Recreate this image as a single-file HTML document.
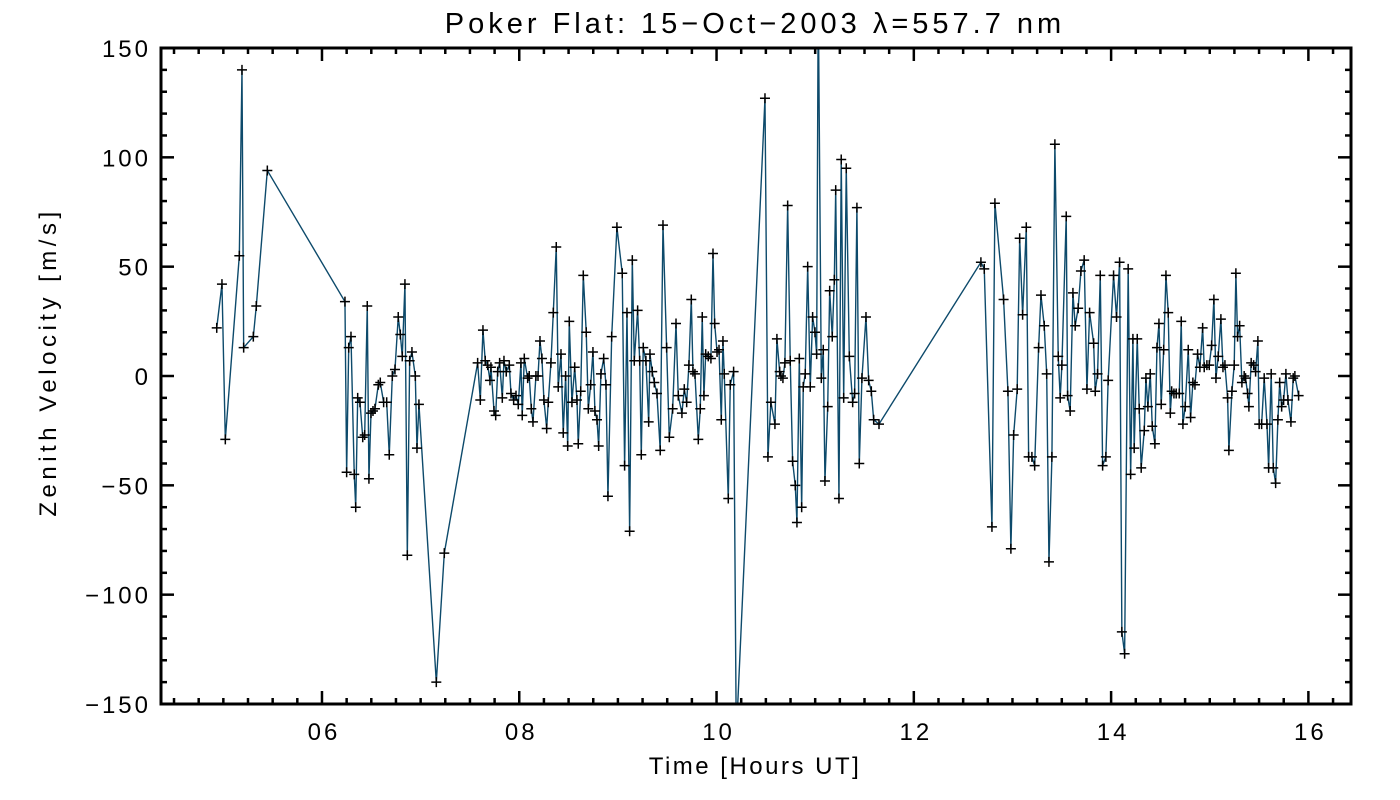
<!DOCTYPE html>
<html><head><meta charset="utf-8"><style>
html,body{margin:0;padding:0;background:#fff;}
svg{display:block;font-family:"Liberation Sans",sans-serif;}
</style></head><body>
<svg id="chart" width="1400" height="800" viewBox="0 0 1400 800" xmlns="http://www.w3.org/2000/svg">
<defs><clipPath id="plotclip"><rect x="161" y="48" width="1190" height="656"/></clipPath></defs>
<rect width="1400" height="800" fill="#fff"/>
<text x="755" y="33" text-anchor="middle" font-size="29" letter-spacing="4" fill="#000">Poker Flat: 15−Oct−2003 λ=557.7 nm</text>
<text x="755" y="774" text-anchor="middle" font-size="24" letter-spacing="2.5" fill="#000">Time [Hours UT]</text>
<text transform="translate(56,362) rotate(-90)" text-anchor="middle" font-size="24" letter-spacing="4.5" fill="#000">Zenith Velocity [m/s]</text>
<g id="axes"></g>
<g id="series" clip-path="url(#plotclip)"></g>
<g id="markers" clip-path="url(#plotclip)"></g>
<rect x="161" y="48" width="1190" height="656" fill="none" stroke="#000" stroke-width="3"/>
</svg>
<script>
const hours = [4.933,4.986,5.020,5.162,5.189,5.206,5.304,5.334,5.446,
6.233,6.250,6.271,6.294,6.327,6.342,6.362,6.385,6.413,6.433,6.459,6.476,6.497,6.517,6.537,6.571,6.591,6.625,6.656,6.682,6.713,6.740,6.773,6.794,6.814,6.841,6.865,6.889,6.912,6.946,6.963,6.983,7.159,7.240,
7.578,7.605,7.632,7.655,7.680,7.703,7.713,7.744,7.761,7.781,7.801,7.828,7.845,7.868,7.899,7.916,7.943,7.967,7.990,8.017,8.030,8.051,8.085,8.101,8.122,8.139,8.169,8.190,8.210,8.230,8.250,8.278,8.294,8.321,8.345,8.375,8.395,8.423,8.446,8.470,8.491,8.507,8.534,8.562,8.585,8.598,8.623,8.649,8.679,8.700,8.724,8.747,8.767,8.788,8.805,8.828,8.856,8.879,8.899,8.937,8.990,9.044,9.068,9.092,9.119,9.146,9.166,9.200,9.221,9.237,9.257,9.284,9.312,9.325,9.348,9.369,9.396,9.429,9.457,9.494,9.521,
9.555,9.589,9.612,9.649,9.673,9.697,9.720,9.744,9.761,9.781,9.815,9.835,9.855,9.872,9.890,9.916,9.943,9.964,9.981,10.005,10.025,10.048,10.065,10.078,10.119,10.139,10.173,10.200,10.491,10.521,10.551,10.592,10.612,10.640,10.653,10.673,10.693,10.721,10.747,10.771,10.798,10.815,10.839,10.863,10.879,10.899,10.924,10.950,10.974,10.998,11.015,11.031,11.062,11.082,11.099,11.127,11.147,11.173,11.194,11.208,11.241,11.264,11.289,11.315,11.346,11.380,11.400,11.423,11.447,11.474,11.515,11.542,11.569,11.593,11.647,
12.680,12.714,12.792,12.822,12.910,12.954,12.984,13.012,13.048,13.073,13.103,13.140,13.164,13.197,13.225,13.265,13.289,13.322,13.347,13.370,13.400,13.430,13.464,13.484,13.501,13.545,13.559,13.585,13.613,13.636,13.666,13.694,13.727,13.755,13.782,13.823,13.839,13.863,13.890,13.914,13.947,13.970,14.025,14.055,14.086,14.109,14.137,14.173,14.198,14.221,14.234,14.265,14.285,
14.305,14.336,14.353,14.373,14.397,14.417,14.444,14.465,14.485,14.508,14.533,14.556,14.579,14.600,14.614,14.637,14.660,14.691,14.711,14.728,14.751,14.782,14.806,14.829,14.850,14.877,14.900,14.928,14.944,14.971,14.995,15.019,15.042,15.063,15.086,15.113,15.134,15.154,15.181,15.194,15.225,15.248,15.265,15.282,15.303,15.326,15.349,15.363,15.384,15.397,15.420,15.445,15.465,15.488,15.501,15.526,15.552,15.580,15.597,15.623,15.644,15.668,15.691,15.709,15.729,15.749,15.772,15.793,15.823,15.846,15.863,15.901];
const velocity = [22,42,-29,55,140,13,18,32,94,
34,-44,13,18,-45,-60,-10,-12,-28,-27,32,-47,-17,-16,-15,-4,-3,-12,-12,-36,0,3,27,19,9,42,-82,7,11,0,-33,-13,-140,-81,
6,-11,21,7,5,-2,4,-16,-18,2,6,-10,7,2,5,-8,-11,-9,-13,6,-18,8,-1,0,-15,-21,0,0,16,8,-11,-24,-12,6,29,59,-5,10,-26,0,-32,25,-12,4,-11,-31,-7,46,20,-15,-4,11,-16,-20,-32,1,8,-4,-55,18,68,47,-41,29,-71,53,7,30,7,-36,13,7,-21,10,2,-3,-8,-34,69,13,-28,
-15,24,-9,-17,-6,-12,5,35,2,1,-29,-15,27,-9,10,9,8,56,24,11,12,-20,16,1,-56,-4,2,-165,127,-37,-12,-22,17,2,0,-1,6,78,7,-39,-50,-67,8,-60,-5,1,50,-5,27,20,10,175,-1,12,-48,-14,39,18,44,85,-56,99,-10,95,9,-12,-8,77,-40,-1,27,-2,-7,-20,-22,
52,49,-69,79,35,-7,-79,-27,-6,63,28,68,-37,-37,-41,13,37,23,1,-85,-37,106,9,-10,5,73,-9,-16,38,23,31,48,53,-6,29,15,-7,1,46,-41,-37,-2,46,27,52,-117,-127,49,-45,17,-33,17,-15,
-42,-25,-1,-14,1,-23,-31,13,24,-13,12,46,29,-17,-7,-8,-8,-8,25,-22,-14,12,-19,-3,-4,10,4,22,4,5,5,14,35,-1,9,26,4,5,-10,-34,-7,5,47,18,23,-3,0,-1,-8,-14,6,5,2,16,-22,-22,-1,-22,-42,1,-42,-49,-20,-3,-14,-11,1,-11,-21,-1,0,-9];
const xTickValues = [6,8,10,12,14,16];
const xTickLabels = ["06","08","10","12","14","16"];
const yTickValues = [-150,-100,-50,0,50,100,150];
const yTickLabels = ["−150","−100","−50","0","50","100","150"];

const L=161,R=1351,T=48,B=704;
const xMin=4.368,xMax=16.432,yMin=-150,yMax=150;
function xs(h){return L+(h-xMin)/(xMax-xMin)*(R-L);}
function ys(v){return B-(v-yMin)/(yMax-yMin)*(B-T);}
const NS="http://www.w3.org/2000/svg";
function mk(tag,attrs,parent){const e=document.createElementNS(NS,tag);for(const k in attrs)e.setAttribute(k,attrs[k]);parent.appendChild(e);return e;}

const axes=document.getElementById('axes');
for(let h=4.5;h<=16.3;h+=0.25){
  const major=Math.abs(h-Math.round(h))<1e-6 && Math.round(h)%2===0;
  const len=major?13:6;const x=xs(h);
  const t1=mk('line',{x1:x,x2:x,y1:B,y2:B-len,stroke:'#000','stroke-width':2.5},axes);
  
  
  const t2=mk('line',{x1:x,x2:x,y1:T,y2:T+len,stroke:'#000','stroke-width':2.5},axes);
  
  
}
xTickValues.forEach((v,i)=>{
  const t=mk('text',{x:xs(v)+2,y:740,'text-anchor':'middle','font-size':24,'letter-spacing':3,fill:'#000'},axes);
  t.textContent=xTickLabels[i];
  
  
});
for(let v=-150;v<=150;v+=10){
  const major=v%50===0;const len=major?13:6;const y=ys(v);
  const t1=mk('line',{x1:L,x2:L+len,y1:y,y2:y,stroke:'#000','stroke-width':2.5},axes);
  
  
  const t2=mk('line',{x1:R,x2:R-len,y1:y,y2:y,stroke:'#000','stroke-width':2.5},axes);
  
  
}
yTickValues.forEach((v,i)=>{
  const t=mk('text',{x:151,y:ys(v)+9,'text-anchor':'end','font-size':24,'letter-spacing':3,fill:'#000'},axes);
  t.textContent=yTickLabels[i];
  
  
});
const series=document.getElementById('series');
let d='';
hours.forEach((h,i)=>{d+=(i?'L':'M')+xs(h).toFixed(2)+' '+ys(velocity[i]).toFixed(2);});
const path=mk('path',{d:d,fill:'none',stroke:'#0d4a6b','stroke-width':1.4,'stroke-linejoin':'miter'},series);


const markers=document.getElementById('markers');
hours.forEach((h,i)=>{
  const x=xs(h),y=ys(velocity[i]);
  const p=mk('path',{d:`M${x-5} ${y}H${x+5}M${x} ${y-5}V${y+5}`,stroke:'#000','stroke-width':1.5,fill:'none'},markers);
  
  
});
</script>
</body></html>
